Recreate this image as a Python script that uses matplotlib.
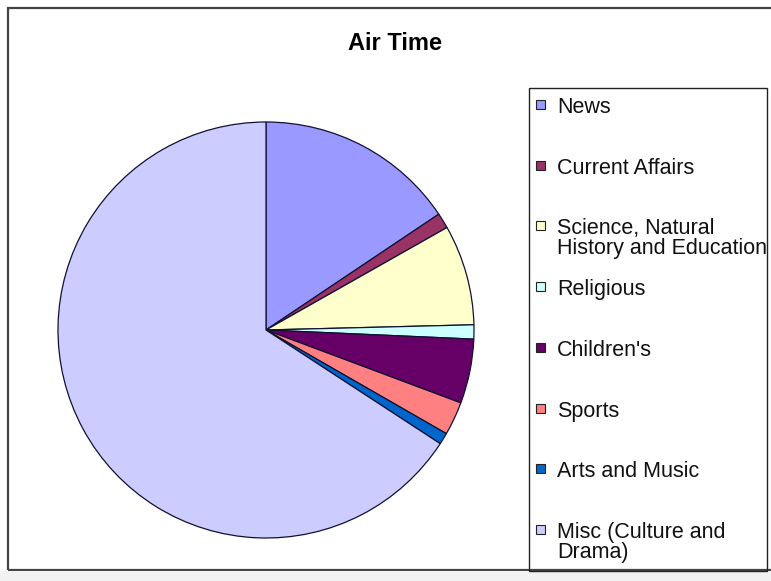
#!/usr/bin/env python
"""Air Time pie chart"""

import matplotlib
matplotlib.use("Agg")
import matplotlib.pyplot as plt
from matplotlib.patches import Rectangle

# data (share of air time, %)
labels = ["News", "Current Affairs", "Science, Natural\nHistory and Education",
          "Religious", "Children's", "Sports", "Arts and Music",
          "Misc (Culture and\nDrama)"]
values = [15.6, 1.2, 7.8, 1.1, 5.0, 2.6, 0.9, 65.8]
colors = ["#9999FF", "#993366", "#FFFFCC", "#CCFFFF", "#660066", "#FF8080",
          "#0066CC", "#CCCCFF"]
title = "Air Time"

W, H = 771, 581
plt.rcParams['font.family'] = ['Liberation Sans', 'DejaVu Sans']


def px(x, y):
	"""pixel coords (top-left origin) -> figure fraction"""
	return x / W, 1 - y / H


fig = plt.figure(figsize=(W / 100, H / 100), dpi=100)
fig.patch.set_facecolor("white")

# outer chart frame
fig.patches.append(Rectangle(px(8, 570), 800 / W, 562 / H, transform=fig.transFigure,
                             fill=False, edgecolor="#444444", linewidth=1.6))
fig.patches.append(Rectangle((0, 0), 1, 10 / H, transform=fig.transFigure,
                             facecolor="#f2f2f2", edgecolor="none"))

# pie: centre (266, 330), radius 208 px
ax = fig.add_axes([58 / W, (H - 538) / H, 416 / W, 416 / H])
ax.pie(values, colors=colors, startangle=90, counterclock=False, radius=1,
       wedgeprops=dict(edgecolor="#111133", linewidth=0.9))
ax.set_xlim(-1, 1)
ax.set_ylim(-1, 1)
ax.set_aspect("equal")
ax.axis("off")

# title
fig.text(*px(395, 50), title, ha="center", va="baseline", fontsize=17,
         fontweight="bold", color="black")

# legend box
fig.patches.append(Rectangle(px(529, 571), 238 / W, 483 / H, transform=fig.transFigure,
                             fill=False, edgecolor="#222222", linewidth=1.0))
for i, (lab, col) in enumerate(zip(labels, colors)):
	base = 113 + 60.7 * i
	fig.patches.append(Rectangle(px(536, base - 4), 9 / W, 9 / H,
	                             transform=fig.transFigure, facecolor=col,
	                             edgecolor="#222222", linewidth=0.8))
	for j, line in enumerate(lab.split("\n")):
		fig.text(*px(557, base + 20 * j), line, ha="left", va="baseline",
		         fontsize=15.5, color="#111111")

fig.savefig("out.png", dpi=100)
